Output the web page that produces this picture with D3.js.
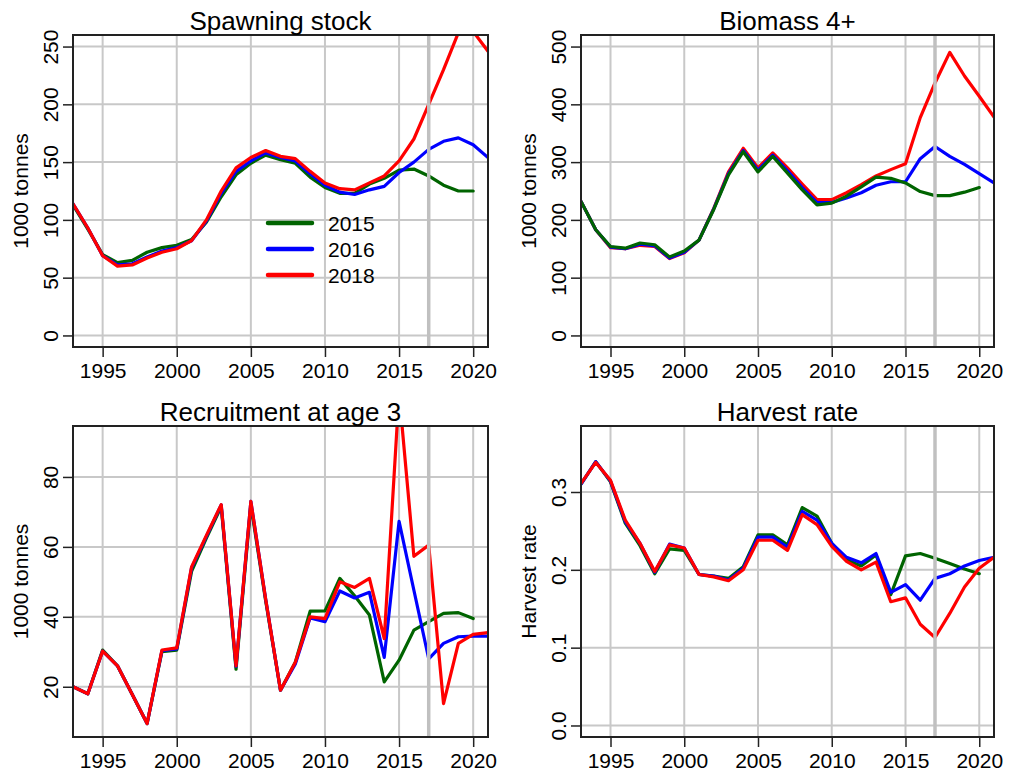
<!DOCTYPE html>
<html>
<head>
<meta charset="utf-8">
<script src="https://cdn.jsdelivr.net/npm/d3@7"></script>
<style>
  body { margin: 0; background: #fff; }
  svg { font-family: "Liberation Sans", Arial, Helvetica, sans-serif; }
</style>
</head>
<body>
<div id="vis"></div>
<script>
var width = 1011,
    height = 776;

//--------DATA--------//
var years = [1993, 1994, 1995, 1996, 1997, 1998, 1999, 2000, 2001, 2002,
             2003, 2004, 2005, 2006, 2007, 2008, 2009, 2010, 2011, 2012,
             2013, 2014, 2015, 2016, 2017, 2018, 2019, 2020, 2021];
var xTicks = [1995, 2000, 2005, 2010, 2015, 2020];
var assessYear = 2017;
var seriesNames = ["2015", "2016", "2018"];
var seriesColors = ["#006400", "#0000ff", "#ff0000"];

// spawning stock (1000 tonnes); 2015 assessment ends 2020
var ssb2015 = [113, 92, 70, 63, 65, 72, 76, 78, 83, 98, 120, 139, 149, 156, 152,
               149, 137, 128, 123, 123, 131, 136, 143, 144, 138, 130, 125, 125];
var ssb2016 = [114, 93, 69, 61, 62, 68, 73, 76, 82, 99, 123, 142, 151, 158, 154,
               151, 140, 130, 124, 122, 126, 129, 141, 150, 161, 168, 171, 165, 154];
var ssb2018 = [114, 93, 69, 60, 61, 67, 72, 75, 82, 100, 125, 145, 154, 160, 155,
               153, 142, 132, 127, 126, 132, 138, 151, 170, 200, 230, 262, 263, 246];
var ssbTicks = [0, 50, 100, 150, 200, 250];

// biomass 4+ (1000 tonnes)
var bio2015 = [232, 183, 154, 151, 160, 157, 136, 146, 165, 218, 278, 318, 283, 310,
               281, 252, 226, 229, 241, 257, 274, 272, 264, 249, 242, 242, 248, 256];
var bio2016 = [232, 183, 153, 150, 158, 155, 134, 144, 165, 219, 280, 320, 286, 312,
               285, 256, 230, 230, 238, 247, 260, 266, 266, 306, 327, 310, 296, 280, 264];
var bio2018 = [232, 183, 152, 150, 156, 154, 133, 143, 165, 220, 283, 324, 290, 316,
               290, 262, 235, 235, 247, 261, 276, 287, 297, 377, 437, 490, 449, 414, 378];
var bioTicks = [0, 100, 200, 300, 400, 500];

// recruitment at age 3
var rec2015 = [20, 18, 30.5, 26, 17.8, 9.5, 30, 30.5, 53, 62.5, 71.5, 25, 72, 44.5,
               19, 27, 41.6, 41.7, 51, 46, 40.5, 21.4, 27.6, 36.2, 38.6, 41, 41.2, 39.5];
var rec2016 = [20, 18, 30.2, 26, 17.8, 9.5, 30.3, 30.8, 54, 63, 72, 25.8, 73, 45,
               19, 26.5, 39.7, 38.6, 47.4, 45.4, 47, 28.4, 67.3, 47.6, 28, 32.4, 34.3, 34.5, 34.5];
var rec2018 = [20, 18, 30.2, 26, 17.8, 9.5, 30.5, 31.1, 54.3, 63.3, 72.1, 26, 73, 45,
               19, 27, 40, 39.5, 50, 48.4, 51, 33.8, 104, 57.3, 60.5, 15.2, 32.4, 35, 35.5];
var recTicks = [20, 40, 60, 80];

// harvest rate
var hr2015 = [0.310, 0.339, 0.313, 0.260, 0.231, 0.195, 0.227, 0.225, 0.194, 0.192,
              0.189, 0.204, 0.245, 0.245, 0.232, 0.280, 0.269, 0.234, 0.213, 0.205,
              0.219, 0.168, 0.218, 0.221, 0.215, 0.208, 0.201, 0.195];
var hr2016 = [0.310, 0.339, 0.314, 0.262, 0.234, 0.197, 0.233, 0.228, 0.194, 0.192,
              0.187, 0.202, 0.242, 0.242, 0.229, 0.275, 0.264, 0.234, 0.216, 0.209,
              0.221, 0.171, 0.181, 0.161, 0.189, 0.195, 0.205, 0.212, 0.216];
var hr2018 = [0.311, 0.338, 0.315, 0.264, 0.234, 0.198, 0.232, 0.228, 0.194, 0.191,
              0.186, 0.200, 0.238, 0.238, 0.225, 0.271, 0.258, 0.230, 0.211, 0.200,
              0.210, 0.159, 0.164, 0.130, 0.113, 0.144, 0.178, 0.202, 0.216];
var hrTicks = [0, 0.1, 0.2, 0.3];

//--------PANELS--------//
var panels = [
  { title: "Spawning stock", ylab: "1000 tonnes", series: [ssb2015, ssb2016, ssb2018],
    ydom: [-10, 260], ticks: ssbTicks, fmt: d3.format("d"), order: [0, 1, 2],
    x0: 73, x1: 488, y0: 35, y1: 347, legend: true },
  { title: "Biomass 4+", ylab: "1000 tonnes", series: [bio2015, bio2016, bio2018],
    ydom: [-20, 520], ticks: bioTicks, fmt: d3.format("d"), order: [2, 1, 0],
    x0: 581, x1: 994, y0: 35, y1: 347 },
  { title: "Recruitment at age 3", ylab: "1000 tonnes", series: [rec2015, rec2016, rec2018],
    ydom: [5.63, 94.57], ticks: recTicks, fmt: d3.format("d"), order: [0, 1, 2],
    x0: 73, x1: 488, y0: 426, y1: 737 },
  { title: "Harvest rate", ylab: "Harvest rate", series: [hr2015, hr2016, hr2018],
    ydom: [-0.0148, 0.3848], ticks: hrTicks, fmt: d3.format(".1f"), order: [0, 1, 2],
    x0: 581, x1: 994, y0: 426, y1: 737 }
];

var svg = d3.select("#vis").append("svg")
    .attr("width", width)
    .attr("height", height);

var gridCol = "#c8c8c8";

panels.forEach(function(p, pi) {
  var x = d3.scaleLinear().domain([1993, 2021]).range([p.x0, p.x1]);
  var y = d3.scaleLinear().domain(p.ydom).range([p.y1, p.y0]);
  var g = svg.append("g");

  g.append("clipPath").attr("id", "clip" + pi)
    .append("rect")
      .attr("x", p.x0).attr("y", p.y0)
      .attr("width", p.x1 - p.x0).attr("height", p.y1 - p.y0);

  // grid
  g.selectAll(".vgrid").data(xTicks).enter().append("line")
      .attr("x1", x).attr("x2", x)
      .attr("y1", p.y0).attr("y2", p.y1)
      .attr("stroke", gridCol).attr("stroke-width", 2);
  g.selectAll(".hgrid").data(p.ticks).enter().append("line")
      .attr("x1", p.x0).attr("x2", p.x1)
      .attr("y1", y).attr("y2", y)
      .attr("stroke", gridCol).attr("stroke-width", 2);

  // lines
  var line = d3.line()
      .x(function(d, i) { return x(years[i]); })
      .y(function(d) { return y(d); });
  var lines = g.append("g").attr("clip-path", "url(#clip" + pi + ")");
  p.order.forEach(function(k) {
    lines.append("path")
        .attr("d", line(p.series[k]))
        .attr("fill", "none")
        .attr("stroke", seriesColors[k])
        .attr("stroke-width", 3.2)
        .attr("stroke-linejoin", "round")
        .attr("stroke-linecap", "round");
  });

  // assessment year marker
  g.append("line")
      .attr("x1", x(assessYear)).attr("x2", x(assessYear))
      .attr("y1", p.y0).attr("y2", p.y1)
      .attr("stroke", "#c0c0c0").attr("stroke-width", 3.5);

  // axes
  var xAxis = g.append("g")
      .attr("transform", "translate(0," + p.y1 + ")")
      .call(d3.axisBottom(x).tickValues(xTicks).tickSize(10).tickPadding(6).tickFormat(d3.format("d")));
  var yAxis = g.append("g")
      .attr("transform", "translate(" + p.x0 + ",0)")
      .call(d3.axisLeft(y).tickValues(p.ticks).tickSize(10).tickFormat(p.fmt));
  [xAxis, yAxis].forEach(function(a) {
    a.select(".domain").remove();
    a.selectAll("line").attr("stroke", "#222").attr("stroke-width", 1.5);
    a.selectAll("text").attr("fill", "#000").style("font-size", "21px")
        .style("font-family", "'Liberation Sans', Arial, sans-serif");
  });
  yAxis.selectAll("text")
      .attr("x", 0).attr("dy", 0)
      .attr("text-anchor", "middle")
      .attr("transform", "translate(-15,0) rotate(-90)");

  // box
  g.append("rect")
      .attr("x", p.x0).attr("y", p.y0)
      .attr("width", p.x1 - p.x0).attr("height", p.y1 - p.y0)
      .attr("fill", "none").attr("stroke", "#222").attr("stroke-width", 2);

  // titles
  g.append("text")
      .attr("x", (p.x0 + p.x1) / 2).attr("y", p.y0 - 5)
      .attr("text-anchor", "middle")
      .style("font-size", "26px")
      .text(p.title);
  g.append("text")
      .attr("transform", "translate(" + (p.x0 - 45) + "," + ((p.y0 + p.y1) / 2) + ") rotate(-90)")
      .attr("text-anchor", "middle")
      .style("font-size", "21px")
      .text(p.ylab);

  //----------LEGEND----------//
  if (p.legend) {
    var legend = g.append("g").attr("transform", "translate(" + (p.x0 + 195) + "," + (p.y0 + 188) + ")");
    var item = legend.selectAll(".legenditem")
        .data(seriesNames)
        .enter().append("g")
        .attr("transform", function(d, i) { return "translate(0," + i * 26 + ")"; });
    item.append("line")
        .attr("x1", 0).attr("x2", 44)
        .attr("stroke", function(d, i) { return seriesColors[i]; })
        .attr("stroke-width", 4.5)
        .attr("stroke-linecap", "round");
    item.append("text")
        .attr("x", 60).attr("dy", "0.36em")
        .style("font-size", "21px")
        .text(function(d) { return d; });
  }
});
</script>
</body>
</html>
